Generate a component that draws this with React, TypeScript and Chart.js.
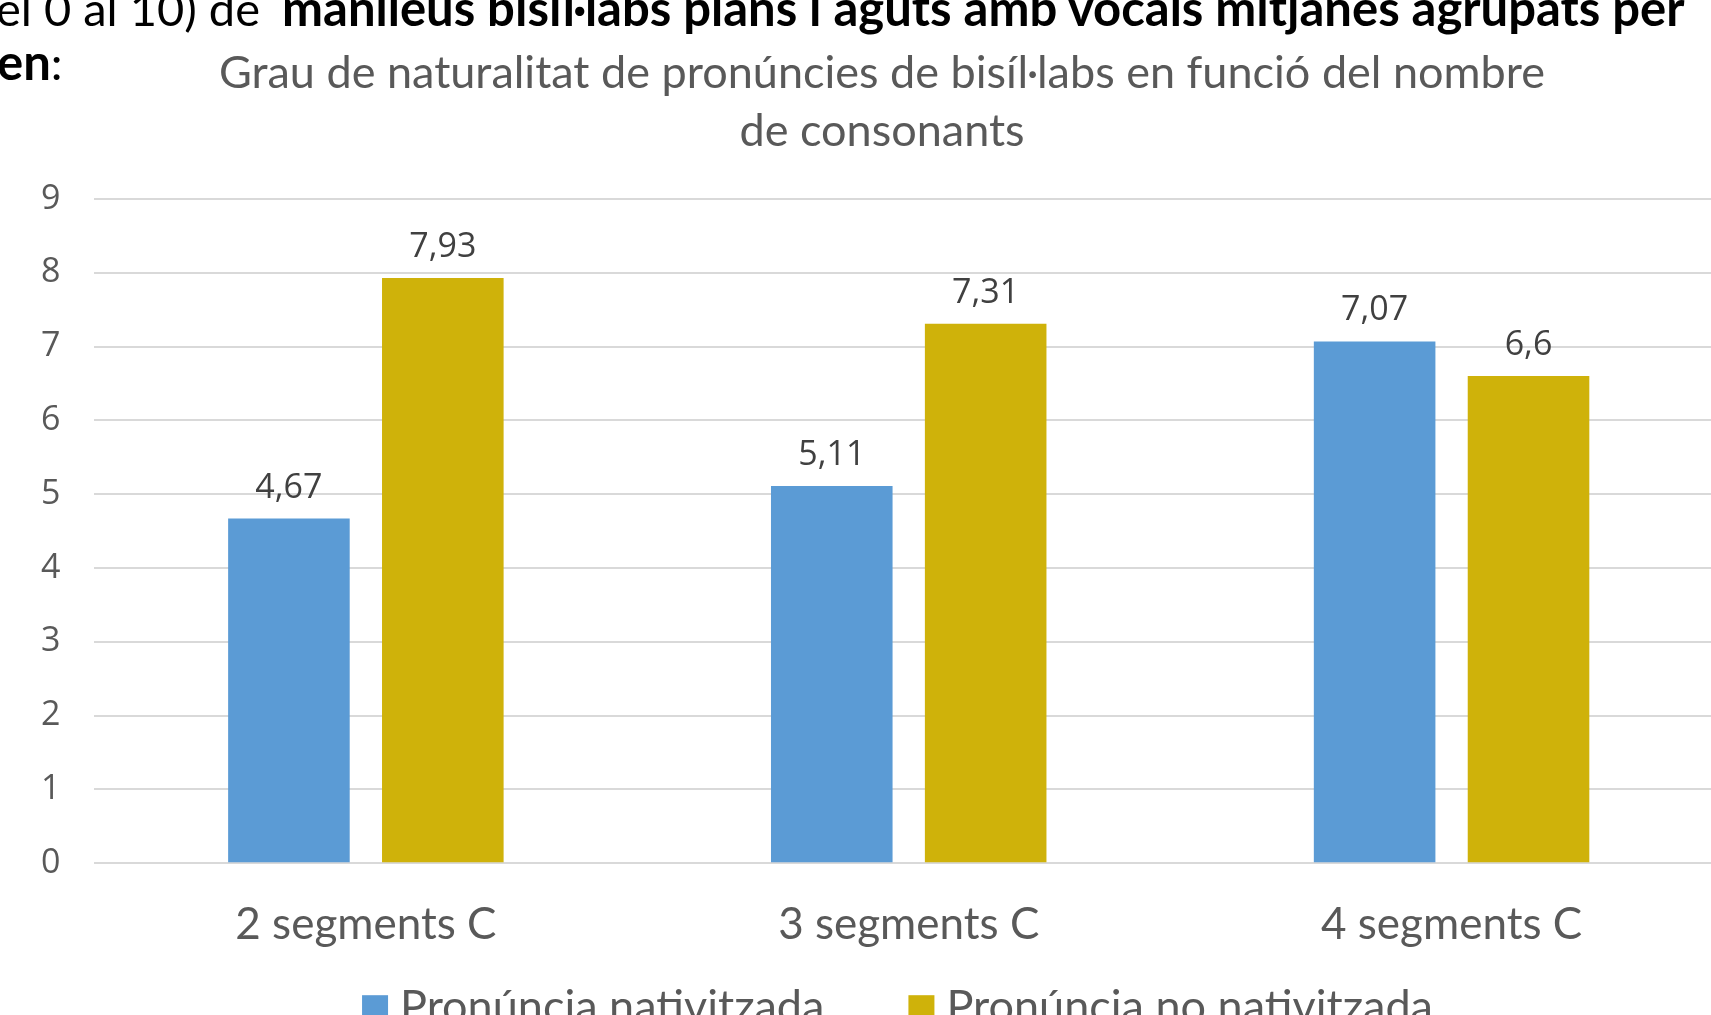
import React, { useEffect, useRef } from "react";
import { Chart, registerables } from "chart.js";

Chart.register(...registerables);

const categories = ["2 segments C", "3 segments C", "4 segments C"];
const nativitzada = [4.67, 5.11, 7.07];
const noNativitzada = [7.93, 7.31, 6.6];
const seriesLabels = ["Pronúncia nativitzada", "Pronúncia no nativitzada"];
const titleLines = [
  "Grau de naturalitat de pronúncies de bisíl·labs en funció del nombre",
  "de consonants",
];
const yMin = 0;
const yMax = 9;
const yStep = 1;

const docLine1Normal = "el 0 al 10) de ";
const docLine1Bold = "manlleus bisíl·labs plans i aguts amb vocals mitjanes agrupats per";
const docLine2Bold = "en";
const docLine2Normal = ":";

const BLUE = "#5B9BD5";
const GOLD = "#CFB20A";
const TEXT = "#595959";
const LABEL = "#404040";
const TEXT_FONT = "Lato";
const NUM_FONT = "'Open Sans'";

const dataLabelPlugin = {
  id: "dataLabels",
  afterDatasetsDraw(chart: any) {
    const ctx = chart.ctx;
    ctx.save();
    ctx.font = `34px ${NUM_FONT}`;
    ctx.fillStyle = LABEL;
    ctx.textAlign = "center";
    ctx.textBaseline = "alphabetic";
    chart.data.datasets.forEach((ds: any, i: number) => {
      const meta = chart.getDatasetMeta(i);
      meta.data.forEach((bar: any, j: number) => {
        const v = ds.data[j];
        ctx.fillText(String(v).replace(".", ","), bar.x, bar.y - 21);
      });
    });
    ctx.restore();
  },
};

const legendPlugin = {
  id: "customLegend",
  afterDraw(chart: any) {
    const ctx = chart.ctx;
    ctx.save();
    ctx.font = `45px ${TEXT_FONT}`;
    const box = 26;
    const gap = 12;
    const itemGap = 84;
    const items = chart.data.datasets.map((ds: any) => ({
      label: ds.label,
      color: ds.backgroundColor,
      w: ctx.measureText(ds.label).width,
    }));
    const total =
      items.reduce((s: number, it: any) => s + box + gap + it.w, 0) +
      itemGap * (items.length - 1);
    let x = (chart.width - total) / 2 + 11;
    const top = chart.chartArea.bottom + 132;
    const baseline = chart.chartArea.bottom + 159;
    ctx.textAlign = "left";
    ctx.textBaseline = "alphabetic";
    items.forEach((it: any) => {
      ctx.fillStyle = it.color;
      ctx.fillRect(x, top, box, box);
      x += box + gap;
      ctx.fillStyle = TEXT;
      ctx.fillText(it.label, x, baseline);
      x += it.w + itemGap;
    });
    ctx.restore();
  },
};

function BarChart() {
  const ref = useRef<HTMLCanvasElement | null>(null);
  useEffect(() => {
    if (!ref.current) return;
    const chart = new Chart(ref.current, {
      type: "bar",
      data: {
        labels: categories,
        datasets: [
          {
            label: seriesLabels[0],
            data: nativitzada,
            backgroundColor: BLUE,
            borderWidth: 0,
            categoryPercentage: 0.567,
            barPercentage: 0.79,
          },
          {
            label: seriesLabels[1],
            data: noNativitzada,
            backgroundColor: GOLD,
            borderWidth: 0,
            categoryPercentage: 0.567,
            barPercentage: 0.79,
          },
        ],
      },
      options: {
        responsive: false,
        animation: false,
        devicePixelRatio: 1,
        layout: { padding: { left: 41, right: 50, top: 0, bottom: 37 } },
        plugins: {
          legend: { display: false },
          tooltip: { enabled: false },
          title: {
            display: true,
            text: titleLines,
            color: TEXT,
            font: { family: TEXT_FONT, size: 45, weight: "normal", lineHeight: 1.3 },
            padding: { top: 44, bottom: 38 },
          },
        },
        scales: {
          x: {
            grid: { display: false },
            border: { display: false },
            ticks: {
              color: TEXT,
              font: { family: TEXT_FONT, size: 44 },
              padding: 27,
              maxRotation: 0,
            },
          },
          y: {
            min: yMin,
            max: yMax,
            grid: { color: "#D9D9D9", lineWidth: 2, drawTicks: false },
            border: { display: false },
            ticks: {
              stepSize: yStep,
              color: TEXT,
              font: { family: "Open Sans", size: 34 },
              padding: 17,
              crossAlign: "far",
            },
          },
        },
      },
      plugins: [dataLabelPlugin, legendPlugin],
    });
    return () => chart.destroy();
  }, []);
  return (
    <canvas
      ref={ref}
      width={1773}
      height={1015}
      style={{ position: "absolute", left: 0, top: 0, width: 1773, height: 1015 }}
    />
  );
}

export default function App() {
  const docStyle: React.CSSProperties = {
    position: "absolute",
    whiteSpace: "nowrap",
    fontFamily: TEXT_FONT,
    fontSize: 47,
    lineHeight: "56px",
    color: "#000",
  };
  return (
    <div
      style={{
        position: "fixed",
        left: 0,
        top: 0,
        width: 1711,
        height: 1015,
        overflow: "hidden",
        background: "#fff",
      }}
    >
      <BarChart />
      <div style={{ ...docStyle, left: -4, top: -21 }}>
        <span>{docLine1Normal}</span>
        <b style={{ fontSize: 49, marginLeft: 10 }}>{docLine1Bold}</b>
      </div>
      <div style={{ ...docStyle, left: -3, top: 33 }}>
        <b style={{ fontSize: 49 }}>{docLine2Bold}</b>
        <span>{docLine2Normal}</span>
      </div>
    </div>
  );
}
